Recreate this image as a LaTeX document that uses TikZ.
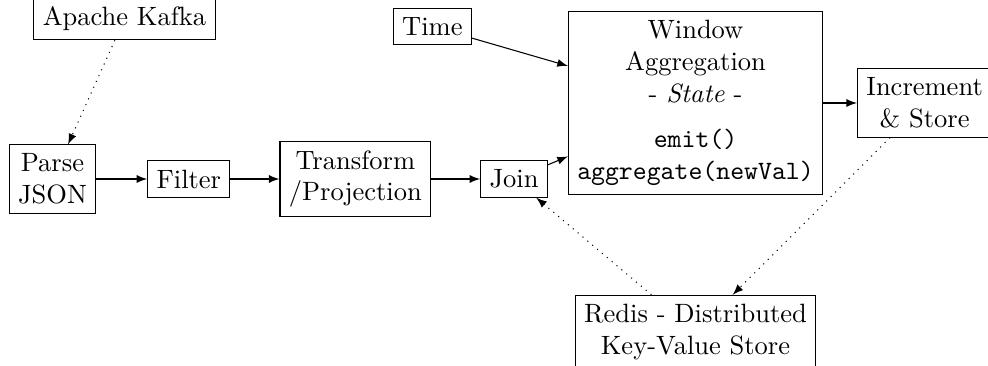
\documentclass[tikz,border=0pt]{standalone}
\usepackage{tikz}
\usetikzlibrary{positioning}
\tikzset{
  % Plain process box
  box/.style={
    rectangle, draw, align=center
  },
  % Solid flow arrow
  arr/.style={-latex},
  % Dotted store/source arrow
  darr/.style={-latex, dotted},
}
\begin{document}
\begin{tikzpicture}[node distance=0.5cm and 0.676cm]
  \useasboundingbox (-0.696,-2.467) rectangle (12.407,2.374);
  \node[box] (parse) at (0,0) {Parse\\JSON};
  \node[box, right=of parse] (filter) {Filter};
  \node[box, right=0.65cm of filter] (transform) {Transform\\/Projection};
  \node[box, right=0.65cm of transform] (join) {Join};
  \node[box, right=0.265cm of join, yshift=1.008cm] (window)
    {Window\\Aggregation\\- \textit{State} -\\[5pt]\texttt{emit()}\\\texttt{aggregate(newVal)}};
  \node[box, right=0.45cm of window] (incr) {Increment\\\& Store};
  \node[box, left=1.273cm of window.north west, anchor=north east, yshift=0.04cm] (time) {Time};
  \node[box, above=1.38cm of parse, xshift=0.955cm] (kafka) {Apache Kafka};
  \node[box, below=1.326cm of window] (redis) {Redis - Distributed\\Key-Value Store};
  \draw[darr] (kafka) -- (parse);
  \draw[arr] (parse) -- (filter);
  \draw[arr] (filter) -- (transform);
  \draw[arr] (transform) -- (join);
  \draw[arr] (join) -- (window);
  \draw[arr] (time) -- (window);
  \draw[arr] (window) -- (incr);
  \draw[darr] (incr) -- (redis);
  \draw[darr] (redis) -- (join);
\end{tikzpicture}
\end{document}
